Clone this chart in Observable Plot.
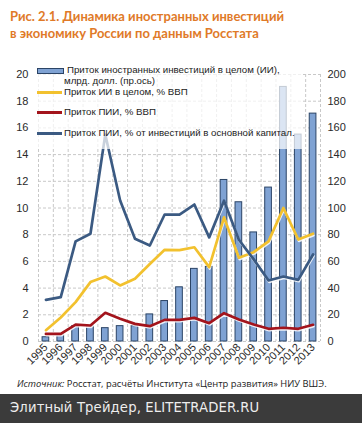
<!DOCTYPE html>
<html>
<head>
<meta charset="utf-8">
<script src="https://cdn.jsdelivr.net/npm/d3@7"></script>
<script src="https://cdn.jsdelivr.net/npm/@observablehq/plot@0.6"></script>
<style>
  html, body { margin: 0; padding: 0; background: #fff; }
  #wrap { position: relative; width: 362px; height: 423px; overflow: hidden; background: #fff; }
  #title { position: absolute; left: 10px; top: 8px; font-family: Lato, "Open Sans", sans-serif; font-weight: 700; font-size: 13px; line-height: 16.5px; color: #e07a28; white-space: nowrap; }
  #chart { position: absolute; left: 0; top: 45px; }
  #legend { position: absolute; left: 37px; top: 62px; width: 266px; height: 87px; background: rgba(255,255,255,0.72); font-family: "Liberation Sans", Arial, sans-serif; font-size: 9.7px; color: #222; }
  .sw { position: absolute; left: 0; width: 25px; }
  .lt { position: absolute; white-space: nowrap; line-height: 12px; }
  #source { position: absolute; left: 17px; top: 377px; font-family: "Open Sans", sans-serif; font-size: 9.4px; color: #222; white-space: nowrap; }
  #band { position: absolute; left: 0; top: 394px; width: 362px; height: 29px; background: #3b3b3b; }
  #band span { position: absolute; left: 10px; top: 6px; font-family: "DejaVu Sans", sans-serif; font-size: 13.2px; color: #eeeeee; white-space: nowrap; letter-spacing: 0.15px; }
</style>
</head>
<body>
<div id="wrap">
  <div id="title">Рис. 2.1. Динамика иностранных инвестиций<br>в экономику России по данным Росстата</div>
  <div id="chart"></div>
  <div id="legend"></div>
  <div id="source"><i>Источник:</i> Росстат, расчёты Института «Центр развития» НИУ ВШЭ.</div>
  <div id="band"><span>Элитный Трейдер, ELITETRADER.RU</span></div>
</div>
<script>
// ---- data ----
const years = [1995,1996,1997,1998,1999,2000,2001,2002,2003,2004,2005,2006,2007,2008,2009,2010,2011,2012,2013];
// Inflow of foreign investment, total (bn USD, right axis)
const inflowTotal = [3.2, 5, 11.5, 11.5, 10, 11.5, 11.5, 20.3, 30.3, 40.6, 54.4, 55.9, 121, 104.3, 81.7, 115.3, 190.7, 155, 170.7];
// Inflow of total foreign investment, % GDP (left axis)
const iiGdp = [0.85, 1.8, 2.95, 4.45, 4.87, 4.2, 4.7, 5.8, 6.87, 6.84, 7.06, 5.57, 9.3, 6.27, 6.69, 7.5, 10.0, 7.64, 8.07];
// FDI inflow, % GDP (left axis)
const fdiGdp = [0.57, 0.57, 1.27, 1.2, 2.15, 1.7, 1.32, 1.15, 1.62, 1.62, 1.77, 1.37, 2.12, 1.65, 1.27, 0.95, 1.03, 0.95, 1.25];
// FDI inflow, % of fixed capital investment (left axis)
const fdiCapital = [3.12, 3.32, 7.5, 8.07, 15.5, 10.56, 7.69, 7.19, 9.51, 9.51, 10.26, 7.8, 10.55, 7.62, 6.15, 4.57, 4.87, 4.62, 6.52];

const leftTicks = [0,2,4,6,8,10,12,14,16,18,20];
const rightTicks = [0,20,40,60,80,100,120,140,160,180,200];

const legendLabels = [
  ["Приток иностранных инвестиций в целом (ИИ),", "млрд. долл. (пр.ось)"],
  ["Приток ИИ в целом, % ВВП"],
  ["Приток ПИИ, % ВВП"],
  ["Приток ПИИ, % от инвестиций в основной капитал."]
];

const colors = {bar: "#7fa2d3", barStroke: "#2b4466", yellow: "#f2c12e", red: "#a3141c", blue: "#3b5a82"};

const rows = years.map((year, i) => ({
  year, total: inflowTotal[i], iiGdp: iiGdp[i], fdiGdp: fdiGdp[i], fdiCapital: fdiCapital[i]
}));
const ratio = rightTicks[rightTicks.length-1] / leftTicks[leftTicks.length-1]; // right axis -> left axis
const gridX = d3.range(years[0] - 0.5, years[years.length-1] + 1, 1);

function lineWithShadow(key, color) {
  return [
    Plot.lineY(rows, {x: "year", y: key, stroke: "#ffffff", strokeWidth: 2.2, strokeOpacity: 0.85, dy: 1.6, dx: 0.6}),
    Plot.lineY(rows, {x: "year", y: key, stroke: color, strokeWidth: 2.7, strokeLinejoin: "round"})
  ];
}

const chart = Plot.plot({
  width: 362,
  height: 333,
  marginLeft: 38,
  marginRight: 42,
  marginTop: 29,
  marginBottom: 37,
  style: {fontFamily: "'Liberation Sans', Arial, sans-serif", fontSize: "11px", color: "#2a2a2a", background: "transparent"},
  x: {domain: [years[0] - 0.5, years[years.length-1] + 0.5]},
  y: {domain: [0, 20]},
  marks: [
    Plot.ruleY(leftTicks, {stroke: "#c8c8c8", strokeDasharray: "3,2", strokeWidth: 1}),
    Plot.ruleX(gridX, {stroke: "#c8c8c8", strokeDasharray: "3,2", strokeWidth: 1}),
    Plot.rectY(rows, {x1: d => d.year - 0.225, x2: d => d.year + 0.225, y1: 0, y2: d => d.total / ratio,
      fill: colors.bar, stroke: colors.barStroke, strokeWidth: 1}),
    ...lineWithShadow("iiGdp", colors.yellow),
    ...lineWithShadow("fdiGdp", colors.red),
    ...lineWithShadow("fdiCapital", colors.blue),
    Plot.axisY({ticks: leftTicks, tickSize: 0, tickPadding: 10, label: null}),
    Plot.axisY({anchor: "right", ticks: rightTicks.map(v => v / ratio), tickFormat: d => String(Math.round(d * ratio)), tickSize: 0, tickPadding: 7, label: null}),
    Plot.axisX({ticks: years, tickFormat: d => String(d), tickRotate: -45, tickSize: 0, tickPadding: 4, label: null})
  ]
});
document.getElementById("chart").appendChild(chart);

// legend (drawn over the plot with a translucent white box, as in the reference)
const legend = document.getElementById("legend");
const items = [
  {type: "bar", y: 8, texts: [[30, 8], [27, 19]]},
  {type: "line", color: colors.yellow, y: 30.3, texts: [[27, 30]]},
  {type: "line", color: colors.red, y: 50.3, texts: [[27, 50]]},
  {type: "line", color: colors.blue, y: 71.3, texts: [[27, 71]]}
];
items.forEach((it, i) => {
  const sw = document.createElement("div");
  sw.className = "sw";
  if (it.type === "bar") {
    sw.style.top = (it.y - 2.5) + "px";
    sw.style.height = "4px";
    sw.style.background = colors.bar;
    sw.style.border = "0.6px solid " + colors.barStroke;
  } else {
    sw.style.top = (it.y - 1.5) + "px";
    sw.style.height = "3px";
    sw.style.background = it.color;
  }
  legend.appendChild(sw);
  it.texts.forEach(([x, y], j) => {
    const t = document.createElement("div");
    t.className = "lt";
    t.style.left = x + "px";
    t.style.top = (y - 6) + "px";
    t.textContent = legendLabels[i][j];
    legend.appendChild(t);
  });
});
</script>
</body>
</html>
